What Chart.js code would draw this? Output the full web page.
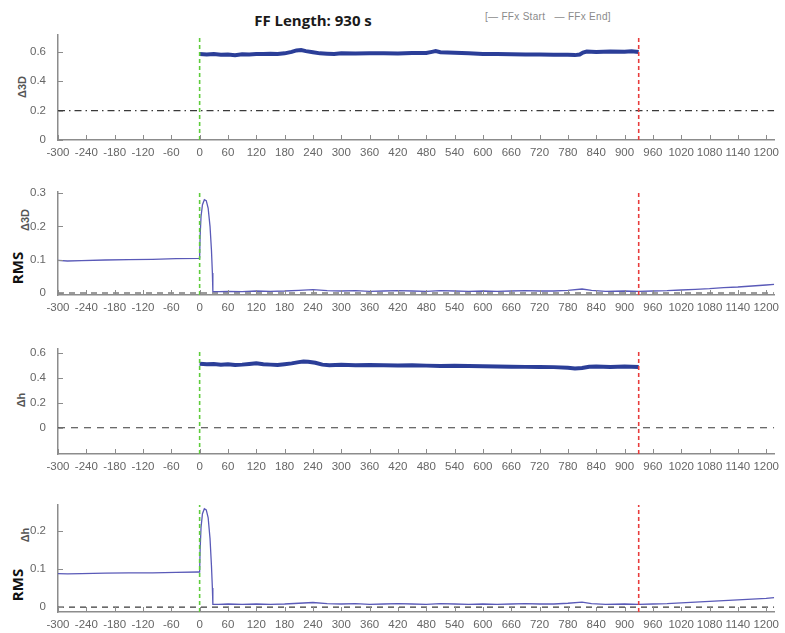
<!DOCTYPE html>
<html>
<head>
<meta charset="utf-8">
<script src="https://cdn.jsdelivr.net/npm/chart.js@4"></script>
<style>
  html,body{margin:0;padding:0;background:#fff;}
  body{width:785px;height:633px;position:relative;overflow:hidden;font-family:"Liberation Sans",Arial,sans-serif;}
  canvas.panel{position:absolute;left:0;}
  #title{position:absolute;left:313px;top:20px;transform:translate(-50%,-50%);font-family:"Open Sans",sans-serif;font-weight:bold;font-size:15px;color:#1a1a1a;white-space:nowrap;}
  #legend{position:absolute;left:485px;top:11px;font-size:10px;color:#8a8a8a;white-space:pre;letter-spacing:0.3px;}
  .ylab{position:absolute;transform:translate(-50%,-50%) rotate(-90deg);white-space:nowrap;}
  .small{font-size:11px;font-weight:bold;color:#555;}
  .rms{font-family:"Open Sans",sans-serif;font-size:15px;font-weight:bold;color:#111;}
</style>
</head>
<body>
<div id="title">FF Length: 930 s</div>
<div id="legend">[— FFx Start   — FFx End]</div>

<div class="ylab small" style="left:22px;top:87px;">Δ3D</div>
<div class="ylab rms" style="left:17px;top:268px;">RMS</div>
<div class="ylab small" style="left:25px;top:220px;">Δ3D</div>
<div class="ylab small" style="left:21px;top:400px;">Δh</div>
<div class="ylab rms" style="left:17px;top:585px;">RMS</div>
<div class="ylab small" style="left:25px;top:535px;">Δh</div>

<canvas id="p1" class="panel"></canvas>
<canvas id="p2" class="panel"></canvas>
<canvas id="p3" class="panel"></canvas>
<canvas id="p4" class="panel"></canvas>

<script>
// ---------------- DATA ----------------
const xTicks = [-300,-240,-180,-120,-60,0,60,120,180,240,300,360,420,480,540,600,660,720,780,840,900,960,1020,1080,1140,1200];
const xMin = -300;
const xMax = 1217;
const ffStart = 0;
const ffEnd = 930;

// Panel 1: delta 3D
const d3dTime = [0,15,30,45,60,75,90,105,120,135,150,165,180,195,205,215,225,240,255,270,285,300,330,360,390,420,450,480,492,500,510,525,540,570,600,630,660,690,720,750,780,795,805,812,820,840,870,900,915,930];
const d3dValues = [0.585,0.583,0.586,0.580,0.582,0.578,0.584,0.583,0.586,0.585,0.587,0.586,0.590,0.600,0.610,0.612,0.605,0.598,0.590,0.588,0.586,0.590,0.589,0.591,0.590,0.589,0.592,0.593,0.600,0.605,0.598,0.596,0.594,0.590,0.586,0.585,0.584,0.582,0.583,0.581,0.580,0.578,0.582,0.595,0.602,0.600,0.603,0.601,0.604,0.600];
const d3dThreshold = 0.2;
const d3dYTicks = [0,0.2,0.4,0.6];
const d3dYRange = [0,0.715];

// Panel 2: RMS delta 3D
const rms3dTime = [-300,-280,-250,-200,-150,-100,-50,-2,0,1,3,6,10,14,18,22,25,27,28,40,60,90,120,150,180,210,240,270,300,330,360,390,420,450,480,510,540,570,600,630,660,690,720,750,780,810,830,860,900,930,960,990,1020,1050,1080,1110,1140,1170,1200,1217];
const rms3dValues = [0.098,0.096,0.097,0.099,0.100,0.101,0.103,0.104,0.105,0.17,0.23,0.265,0.28,0.277,0.255,0.2,0.13,0.06,0.004,0.004,0.005,0.004,0.006,0.005,0.006,0.008,0.010,0.007,0.006,0.007,0.005,0.006,0.007,0.006,0.005,0.007,0.006,0.005,0.006,0.005,0.006,0.007,0.006,0.006,0.008,0.012,0.008,0.005,0.006,0.005,0.006,0.007,0.009,0.011,0.013,0.016,0.018,0.021,0.024,0.026];
const rms3dRef = 0;
const rms3dYTicks = [0,0.1,0.2,0.3];
const rms3dYRange = [-0.006,0.303];

// Panel 3: delta h
const dhTime = [0,15,30,45,60,75,90,105,120,135,150,165,180,195,210,220,230,245,260,275,300,330,360,390,420,450,480,510,540,570,600,630,660,690,720,750,780,795,810,825,840,870,900,930];
const dhValues = [0.512,0.508,0.510,0.505,0.507,0.502,0.505,0.510,0.515,0.508,0.505,0.502,0.508,0.515,0.525,0.530,0.528,0.520,0.505,0.500,0.503,0.500,0.502,0.500,0.498,0.500,0.497,0.495,0.496,0.494,0.492,0.490,0.488,0.487,0.486,0.485,0.480,0.475,0.478,0.488,0.490,0.487,0.489,0.486];
const dhRef = 0;
const dhYTicks = [0,0.2,0.4,0.6];
const dhYRange = [-0.21,0.63];

// Panel 4: RMS delta h
const rmsDhTime = [-300,-280,-250,-200,-150,-100,-50,-2,0,1,3,6,10,14,18,22,25,27,28,40,60,90,120,150,180,210,240,270,300,330,360,390,420,450,480,510,540,570,600,630,660,690,720,750,780,810,830,860,900,930,960,990,1020,1050,1080,1110,1140,1170,1200,1217];
const rmsDhValues = [0.088,0.087,0.088,0.089,0.090,0.090,0.091,0.092,0.092,0.15,0.21,0.245,0.258,0.255,0.235,0.18,0.11,0.05,0.007,0.007,0.008,0.007,0.008,0.007,0.008,0.010,0.012,0.009,0.008,0.009,0.007,0.008,0.009,0.008,0.007,0.009,0.008,0.007,0.008,0.007,0.008,0.009,0.008,0.008,0.010,0.013,0.009,0.007,0.008,0.007,0.008,0.009,0.011,0.013,0.015,0.017,0.019,0.021,0.023,0.025];
const rmsDhRef = 0;
const rmsDhYTicks = [0,0.1,0.2];
const rmsDhYRange = [-0.013,0.268];

// ---------------- STYLE ----------------
const thickBlue = '#2b3e98';
const thinBlue = '#5a5ab8';
const greenDash = '#5fcc3c';
const redDash = '#e83c3c';
const axisGray = '#8c8c8c';
const tickFont = {family:'"Liberation Sans", Arial, sans-serif', size:11.5};

const inwardTicks = {
  id:'inwardTicks',
  afterDraw(chart){
    const {ctx, chartArea:a, scales:{x,y}} = chart;
    ctx.save();
    ctx.strokeStyle = axisGray; ctx.lineWidth = 1;
    ctx.beginPath();
    x.ticks.forEach(t=>{
      const px = Math.round(x.getPixelForValue(t.value))+0.5;
      ctx.moveTo(px,a.bottom); ctx.lineTo(px,a.bottom-5);
    });
    y.ticks.forEach(t=>{
      const py = Math.round(y.getPixelForValue(t.value))+0.5;
      ctx.moveTo(a.left,py); ctx.lineTo(a.left+5,py);
    });
    ctx.stroke();
    ctx.restore();
  }
};

function zip(t,v){ return t.map((tt,i)=>({x:tt,y:v[i]})); }

function makePanel(id, top, bottom, p){
  const padTop = 22, xAxisH = 22;
  const cv = document.getElementById(id);
  const h = (bottom-top) + padTop + xAxisH;
  cv.style.top = (top-padTop)+'px';
  cv.style.width = '785px'; cv.style.height = h+'px';
  cv.width = 785; cv.height = h;
  const [yMin,yMax] = p.yRange;
  const datasets = [
    {data: zip(p.time,p.values), borderColor:p.color, borderWidth:p.width, pointRadius:0, tension:0, order:2},
    {data: [{x:xMin,y:p.ref},{x:xMax,y:p.ref}], borderColor:'#3a3a3a', borderWidth:1.2, borderDash:p.refDash, pointRadius:0, order:3},
    {data: [{x:ffStart,y:yMin},{x:ffStart,y:yMax}], borderColor:greenDash, borderWidth:1.6, borderDash:[4,3], pointRadius:0, order:1},
    {data: [{x:ffEnd,y:yMin},{x:ffEnd,y:yMax}], borderColor:redDash, borderWidth:1.6, borderDash:[4,3], pointRadius:0, order:1}
  ];
  new Chart(cv, {
    type:'line',
    data:{datasets},
    plugins:[inwardTicks],
    options:{
      responsive:false, animation:false, devicePixelRatio:1,
      layout:{padding:{top:padTop,right:3,left:0,bottom:0}},
      plugins:{legend:{display:false}, tooltip:{enabled:false}},
      scales:{
        x:{type:'linear', min:xMin, max:xMax,
           afterBuildTicks:s=>{s.ticks = xTicks.map(v=>({value:v}));},
           afterFit:s=>{s.height = xAxisH;},
           grid:{display:false, drawTicks:false},
           border:{display:true,color:axisGray,width:1.5},
           ticks:{autoSkip:false,maxRotation:0,minRotation:0,padding:6,color:'#666',font:tickFont,
                  callback:v=>String(v)}},
        y:{type:'linear', min:yMin, max:yMax,
           afterBuildTicks:s=>{s.ticks = p.yTicks.map(v=>({value:v}));},
           afterFit:s=>{s.width = 58;},
           grid:{display:false, drawTicks:false},
           border:{display:true,color:axisGray,width:1.5},
           ticks:{padding:12,color:'#666',font:tickFont,callback:v=>String(v)}}
      }
    }
  });
}

makePanel('p1', 35, 140, {time:d3dTime, values:d3dValues, color:thickBlue, width:4, ref:d3dThreshold, refDash:[7,4,1.5,4], yTicks:d3dYTicks, yRange:d3dYRange});
makePanel('p2', 192, 295, {time:rms3dTime, values:rms3dValues, color:thinBlue, width:1.3, ref:rms3dRef, refDash:[6,5], yTicks:rms3dYTicks, yRange:rms3dYRange});
makePanel('p3', 349, 454, {time:dhTime, values:dhValues, color:thickBlue, width:4, ref:dhRef, refDash:[7,6], yTicks:dhYTicks, yRange:dhYRange});
makePanel('p4', 505, 612, {time:rmsDhTime, values:rmsDhValues, color:thinBlue, width:1.3, ref:rmsDhRef, refDash:[6,5], yTicks:rmsDhYTicks, yRange:rmsDhYRange});
</script>
</body>
</html>
